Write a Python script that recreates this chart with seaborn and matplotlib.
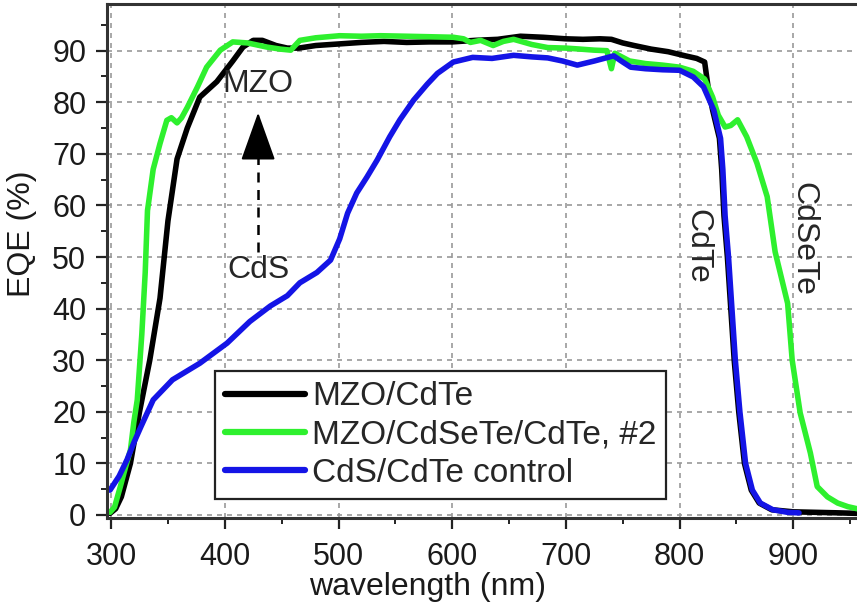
import numpy as np
import pandas as pd
import matplotlib
matplotlib.use("Agg")
import matplotlib.pyplot as plt
import seaborn as sns
from matplotlib.ticker import MultipleLocator

# EQE spectra
wl_mzo = [299, 304, 309, 317, 325, 334, 343, 350, 358, 367, 378, 393, 407, 416, 425,
          433, 445, 455, 465, 480, 500, 520, 540, 560, 580, 600, 620, 640, 660, 680,
          700, 715, 730, 740, 750, 760, 775, 790, 805, 815, 822, 825, 829, 835, 837,
          839, 842, 845, 848, 852, 857, 863, 870, 881, 900, 920, 940, 956]
eqe_mzo = [0.3, 1.2, 3.5, 10, 20, 30, 42, 57, 69, 75, 81, 84, 88, 90.7, 92,
           92, 91, 90.5, 90.5, 91, 91.3, 91.6, 91.8, 91.6, 91.7, 91.7, 92, 92.2, 92.8, 92.6,
           92.3, 92.2, 92.3, 92.2, 91.5, 91, 90.3, 89.8, 89, 88.5, 87.8, 83, 78.5, 73, 67,
           58, 50, 40, 30, 20, 10, 4.8, 2.3, 1, 0.6, 0.5, 0.4, 0.3]

wl_cdsete = [299, 303, 308, 313, 317, 320, 323, 327, 330, 332, 337, 343, 349, 353, 358,
             362, 367, 376, 384, 396, 407, 420, 437, 449, 458, 466, 480, 501, 520, 537,
             560, 581, 601, 610, 616, 625, 636, 645, 654, 670, 684, 700, 713, 725, 736,
             740, 743, 756, 770, 785, 800, 812, 822, 829, 834, 840, 845, 851, 859, 868,
             877, 884, 895, 899, 906, 915, 921, 930, 939, 948, 956]
eqe_cdsete = [0.5, 1.5, 5.4, 9.5, 12.6, 18, 22.3, 35, 47, 59, 67, 72, 76.5, 77, 76,
              77, 79, 83, 86.8, 90.1, 91.7, 91.5, 90.7, 90.3, 90.1, 92, 92.5, 92.9, 92.8, 92.9,
              92.8, 92.7, 92.6, 92.3, 91.6, 92, 91, 91.8, 92.2, 91.2, 90.6, 90.5, 90.3, 90.1, 90,
              86.5, 89.5, 88, 87.5, 87.2, 86.8, 86, 84.5, 81, 77.5, 75.2, 75.5, 76.6, 73.3, 68.2,
              61.7, 51, 41, 30, 19.8, 12, 5.5, 3.5, 2.3, 1.6, 1.2]

wl_cds = [299, 307, 314, 320, 326, 337, 354, 378, 402, 422, 440, 455, 466, 481, 493,
          501, 508, 516, 525, 534, 545, 554, 566, 578, 587, 601, 618, 635, 654, 670,
          684, 697, 710, 725, 742, 750, 757, 770, 785, 800, 812, 821, 830, 836, 838,
          840, 843, 846, 849, 853, 858, 864, 871, 882, 895, 905]
eqe_cds = [4.8, 7.5, 10.7, 14, 17, 22.3, 26.2, 29.4, 33.3, 37.5, 40.5, 42.5, 45, 47, 49.4,
           53.5, 58.5, 62.4, 65.5, 68.8, 73.3, 76.6, 80.4, 83.5, 85.6, 87.8, 88.7, 88.5, 89.1, 88.8,
           88.6, 88.0, 87.2, 88, 89, 87.8, 86.8, 86.5, 86.3, 86.2, 84.9, 83, 78.5, 73, 67,
           58, 50, 40, 30, 20, 10, 4.8, 2.3, 1, 0.5, 0.4]

labels = ["MZO/CdTe", "MZO/CdSeTe/CdTe, #2", "CdS/CdTe control"]
colors = ["#000000", "#2EF02E", "#1414E6"]

frames = []
for lab, wl, eqe in zip(labels, [wl_mzo, wl_cdsete, wl_cds], [eqe_mzo, eqe_cdsete, eqe_cds]):
    frames.append(pd.DataFrame({"wavelength": wl, "EQE": eqe, "cell": lab}))
df = pd.concat(frames, ignore_index=True)

sns.set_style("ticks")
plt.rcParams["font.family"] = ["Liberation Sans", "DejaVu Sans"]

fig = plt.figure(figsize=(8.57, 6.08), dpi=100)
ax = fig.add_axes([0.125, 0.148, 0.875, 0.845])

sns.lineplot(data=df, x="wavelength", y="EQE", hue="cell", hue_order=labels,
             palette=colors, sort=False, estimator=None, linewidth=4, ax=ax)

ax.set_xlim(296.5, 956)
ax.set_ylim(-0.6, 99)
ax.xaxis.set_major_locator(MultipleLocator(100))
ax.xaxis.set_minor_locator(MultipleLocator(50))
ax.yaxis.set_major_locator(MultipleLocator(10))
ax.yaxis.set_minor_locator(MultipleLocator(5))
ax.grid(True, which="major", linestyle=(0, (3, 3)), color="#999999", linewidth=1.2)
ax.tick_params(which="major", length=8, width=1.6, labelsize=22, color="#222222",
               labelcolor="#1a1a1a")
ax.tick_params(which="minor", length=4.5, width=1.4, color="#222222")
ax.tick_params(axis="x", which="major", pad=9)
ax.tick_params(axis="y", which="major", pad=7)
for side in ["left", "bottom", "top"]:
    ax.spines[side].set_linewidth(2.2)
    ax.spines[side].set_color("#333333")
ax.spines["right"].set_visible(False)

ax.set_xlabel("wavelength (nm)", fontsize=23, color="#1a1a1a")
ax.set_ylabel("EQE (%)", fontsize=23, color="#1a1a1a")
ax.xaxis.set_label_coords(0.427, -0.105)
ax.yaxis.set_label_coords(-0.093, 0.554)

# annotations
ax.text(429.3, 83.5, "MZO", fontsize=23, ha="center", va="center")
ax.text(429.3, 47.5, "CdS", fontsize=23, ha="center", va="center")
ax.plot([429.3, 429.3], [51, 71], color="black", linewidth=1.8, linestyle=(0, (4, 3)))
ax.annotate("", xy=(429.3, 78), xytext=(429.3, 70.5),
            arrowprops=dict(arrowstyle="-|>,head_length=1.4,head_width=0.5",
                            color="black", lw=1.5, shrinkA=0, shrinkB=0, mutation_scale=22))
ax.text(815.5, 52, "CdTe", fontsize=23, rotation=-90, ha="center", va="center")
ax.text(909, 53.5, "CdSeTe", fontsize=23, rotation=-90, ha="center", va="center")

leg = ax.legend(loc="lower left", bbox_to_anchor=(0.144, 0.037), borderaxespad=0,
                fontsize=24, frameon=True, fancybox=False, handlelength=2.4,
                handletextpad=0.2, labelspacing=0.22, borderpad=0.3)
leg.get_frame().set_edgecolor("#222222")
leg.get_frame().set_linewidth(1.6)
leg.get_frame().set_alpha(1)
for line in leg.get_lines():
    line.set_linewidth(4.5)

fig.savefig("out.png", dpi=100)
